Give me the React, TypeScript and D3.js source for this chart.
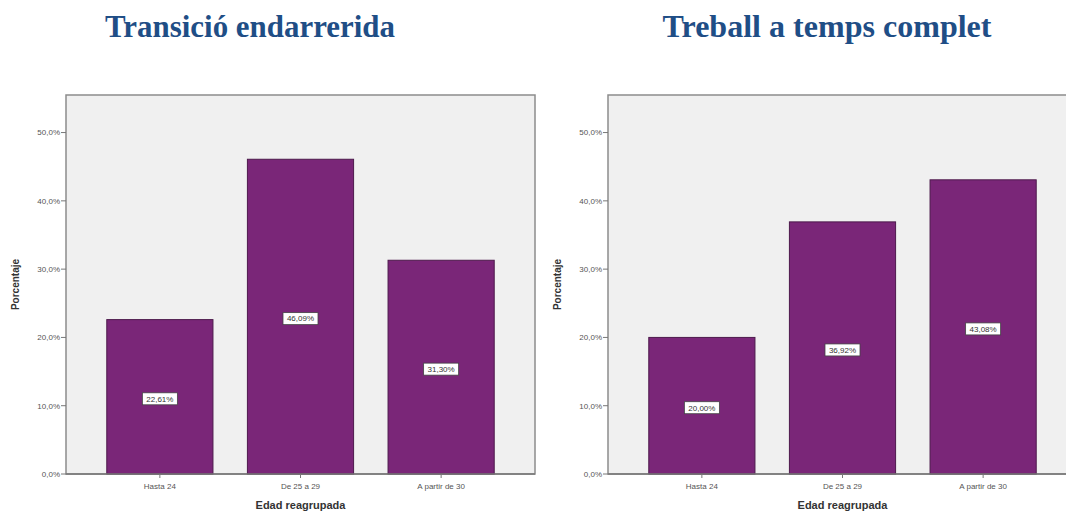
import React from "react";
import * as d3 from "d3";

const categories = ["Hasta 24", "De 25 a 29", "A partir de 30"];
const transicioValues = [22.61, 46.09, 31.3];
const treballValues = [20.0, 36.92, 43.08];
const yTicks = [0, 10, 20, 30, 40, 50];
const titles = ["Transició endarrerida", "Treball a temps complet"];
const yLabel = "Porcentaje";
const xLabel = "Edad reagrupada";

const W = 1066;
const H = 513;
const TOP = 95;
const BOTTOM = 474;
const FRAME_W = 469;

const fmtTick = (v: number) => v.toFixed(1).replace(".", ",") + "%";
const fmtVal = (v: number) => v.toFixed(2).replace(".", ",") + "%";

function Panel({
  x0,
  title,
  titleX,
  titleLen,
  titleSize,
  values,
}: {
  x0: number;
  title: string;
  titleX: number;
  titleLen: number;
  titleSize: number;
  values: number[];
}) {
  const y = d3.scaleLinear().domain([0, 55.5]).range([BOTTOM, TOP]);
  const x = d3
    .scaleBand<string>()
    .domain(categories)
    .range([x0, x0 + FRAME_W])
    .paddingInner(0.245)
    .paddingOuter(0.29);
  const bw = x.bandwidth();
  const midX = (x(categories[1]) as number) + bw / 2;
  return (
    <g>
      <text
        x={titleX}
        y={37}
        textAnchor="middle"
        fontFamily="'Liberation Serif', 'Times New Roman', serif"
        fontWeight="bold"
        fontSize={titleSize}
        fill="#1F4E86"
        textLength={titleLen}
        lengthAdjust="spacingAndGlyphs"
      >
        {title}
      </text>
      <rect x={x0} y={TOP} width={FRAME_W} height={BOTTOM - TOP} fill="#F0F0F0" stroke="#8c8c8c" strokeWidth={1.5} />
      {yTicks.map((t) => (
        <g key={t}>
          <line x1={x0 - 5} x2={x0} y1={y(t)} y2={y(t)} stroke="#777" strokeWidth={1} />
          <text
            x={x0 - 6}
            y={y(t)}
            dy="0.35em"
            textAnchor="end"
            fontFamily="'Liberation Sans', Arial, sans-serif"
            fontSize={8}
            fill="#555"
          >
            {fmtTick(t)}
          </text>
        </g>
      ))}
      {categories.map((c, i) => {
        const bx = x(c) as number;
        const v = values[i];
        const top = y(v);
        const cx = bx + bw / 2;
        const cy = (top + BOTTOM) / 2 + 2;
        return (
          <g key={c}>
            <rect x={bx} y={top} width={bw} height={BOTTOM - top} fill="#7A2678" stroke="#4d1a4c" strokeWidth={1} />
            <rect x={cx - 17.5} y={cy - 6} width={35} height={12} fill="#ffffff" stroke="#444" strokeWidth={0.8} />
            <text
              x={cx}
              y={cy}
              dy="0.35em"
              textAnchor="middle"
              fontFamily="'Liberation Sans', Arial, sans-serif"
              fontSize={8}
              fill="#333"
            >
              {fmtVal(v)}
            </text>
            <line x1={cx} x2={cx} y1={BOTTOM} y2={BOTTOM + 4} stroke="#777" strokeWidth={1} />
            <text
              x={cx}
              y={489}
              textAnchor="middle"
              fontFamily="'Liberation Sans', Arial, sans-serif"
              fontSize={8}
              fill="#555"
            >
              {c}
            </text>
          </g>
        );
      })}
      <line x1={x0} x2={x0 + FRAME_W} y1={BOTTOM} y2={BOTTOM} stroke="#777" strokeWidth={1.5} />
      <text
        x={midX}
        y={509}
        textAnchor="middle"
        fontFamily="'Liberation Sans', Arial, sans-serif"
        fontWeight="bold"
        fontSize={11}
        fill="#333"
      >
        {xLabel}
      </text>
      <text
        transform={`translate(${x0 - 47},${(TOP + BOTTOM) / 2}) rotate(-90)`}
        textAnchor="middle"
        fontFamily="'Liberation Sans', Arial, sans-serif"
        fontWeight="bold"
        fontSize={10}
        fill="#333"
      >
        {yLabel}
      </text>
    </g>
  );
}

export default function App() {
  return (
    <svg
      width={W}
      height={H}
      style={{ position: "absolute", left: 0, top: 0, display: "block", background: "#fff" }}
    >
      <Panel x0={66} title={titles[0]} titleX={250} titleLen={290} titleSize={31} values={transicioValues} />
      <Panel x0={608} title={titles[1]} titleX={827} titleLen={329} titleSize={31} values={treballValues} />
    </svg>
  );
}
